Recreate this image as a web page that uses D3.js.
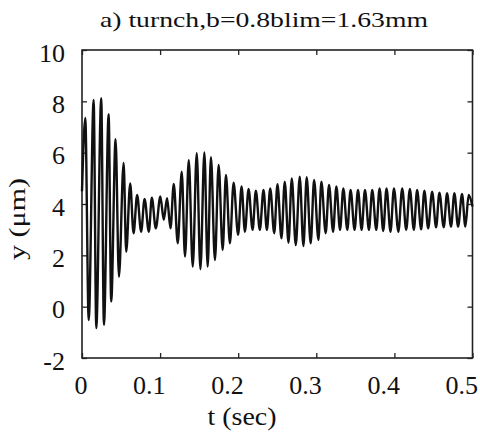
<!DOCTYPE html>
<html>
<head>
<meta charset="utf-8">
<script src="https://cdn.jsdelivr.net/npm/d3@7"></script>
<style>
  body { margin: 0; background: #fff; }
  svg { display: block; }
  text { font-family: "Liberation Serif", "Times New Roman", Times, "Nimbus Roman", serif; fill: #111; }
</style>
</head>
<body>
<div id="chart"></div>
<script>
const peakT = [0.0042, 0.0149, 0.0246, 0.0341, 0.0430, 0.0533, 0.0617, 0.0706, 0.0801, 0.0894,
  0.1003, 0.1089, 0.1175, 0.1277, 0.1367, 0.1469, 0.1567, 0.1651, 0.1750, 0.1843,
  0.1941, 0.2043, 0.2133, 0.2226, 0.2324, 0.2410, 0.2503, 0.2596, 0.2686, 0.2788,
  0.2877, 0.2972, 0.3065, 0.3163, 0.3257, 0.3346, 0.3439, 0.3534, 0.3623, 0.3716,
  0.3810, 0.3899, 0.3994, 0.4100, 0.4198, 0.4291, 0.4384, 0.4483, 0.4576, 0.4674,
  0.4768, 0.4866, 0.4951];
const peakY = [7.35, 8.05, 8.12, 7.5, 6.52, 5.6, 4.8, 4.35, 4.2, 4.25,
  4.29, 4.23, 4.78, 5.26, 5.71, 5.98, 6.01, 5.82, 5.52, 5.13,
  4.83, 4.68, 4.59, 4.52, 4.55, 4.61, 4.77, 4.87, 5.0, 5.06,
  5.04, 4.94, 4.87, 4.74, 4.68, 4.61, 4.55, 4.55, 4.55, 4.55,
  4.61, 4.61, 4.61, 4.61, 4.59, 4.55, 4.52, 4.48, 4.44, 4.42,
  4.42, 4.39, 4.35];

const troughT = [0.0086, 0.0183, 0.0281, 0.0374, 0.0473, 0.0566, 0.0660, 0.0757, 0.0856, 0.0945,
  0.1047, 0.1133, 0.1226, 0.1319, 0.1418, 0.1516, 0.1609, 0.1702, 0.1801, 0.1894,
  0.1999, 0.2086, 0.2184, 0.2277, 0.2367, 0.2461, 0.2554, 0.2644, 0.2737, 0.2835,
  0.2928, 0.3027, 0.3120, 0.3215, 0.3304, 0.3397, 0.3490, 0.3580, 0.3674, 0.3768,
  0.3857, 0.3950, 0.4051, 0.4151, 0.4249, 0.4342, 0.4432, 0.4534, 0.4632, 0.4725,
  0.4815, 0.4908];
const troughY = [-0.52, -0.83, -0.71, 0.2, 1.17, 2.14, 2.86, 2.92, 2.92, 3.05,
  3.38, 3.05, 2.47, 1.95, 1.56, 1.46, 1.56, 1.82, 2.21, 2.47,
  2.8, 2.92, 2.99, 2.99, 2.99, 2.86, 2.66, 2.49, 2.40, 2.36,
  2.47, 2.6, 2.86, 2.92, 2.99, 2.99, 2.99, 2.99, 2.99, 2.99,
  2.95, 2.92, 2.92, 2.99, 2.99, 3.01, 3.05, 3.09, 3.09, 3.12,
  3.12, 3.12];

// end points of the trace
const endT = [0, 0.5];
const endY = [4.5, 3.9];

const xTicks = [0, 0.1, 0.2, 0.3, 0.4, 0.5];
const xLabels = ["0", "0.1", "0.2", "0.3", "0.4", "0.5"];
const yTicks = [-2, 0, 2, 4, 6, 8, 10];
const yLabels = ["-2", "0", "2", "4", "6", "8", "10"];

const width = 480, height = 433,
    margin = ({ top: 50, right: 7, bottom: 75, left: 82 });

const svg = d3.select("#chart")
    .append("svg")
    .attr("width", width)
    .attr("height", height);

let data = [];
peakT.forEach((t, i) => data.push({ t: t, y: peakY[i] }));
troughT.forEach((t, i) => data.push({ t: t, y: troughY[i] }));
endT.forEach((t, i) => data.push({ t: t, y: endY[i] }));
data.sort((a, b) => a.t - b.t);

let x = d3.scaleLinear()
    .domain([0, 0.5])
    .range([margin.left, width - margin.right - 0.5]);

let y = d3.scaleLinear()
    .domain([-2, 10])
    .range([height - margin.bottom, margin.top]);

const serif = "'Liberation Serif', 'Times New Roman', Times, serif";

// bottom axis, ticks pointing in
let gx = svg.append("g")
    .attr("transform", `translate(0,${height - margin.bottom})`)
    .call(d3.axisBottom(x).tickValues(xTicks).tickSize(-5).tickFormat((d, i) => xLabels[i]));
gx.selectAll("text")
    .attr("y", 36)
    .attr("dy", null)
    .attr("dx", 5)
    .attr("text-anchor", "end")
    .style("font-size", "26px");

svg.append("g")
    .attr("transform", `translate(0,${margin.top})`)
    .call(d3.axisTop(x).tickValues(xTicks).tickSize(-5).tickFormat(""));

// left axis
let gy = svg.append("g")
    .attr("transform", `translate(${margin.left},0)`)
    .call(d3.axisLeft(y).tickValues(yTicks).tickSize(-5).tickPadding(17).tickFormat((d, i) => yLabels[i]));
gy.selectAll("text")
    .attr("dy", 11)
    .style("font-size", "26px");

svg.append("g")
    .attr("transform", `translate(${x(0.5)},0)`)
    .call(d3.axisRight(y).tickValues(yTicks).tickSize(-5).tickFormat(""));

svg.selectAll("g").attr("font-family", serif);
svg.selectAll(".domain").remove();
svg.selectAll(".tick line").attr("stroke", "#222").attr("stroke-width", 1.3);
svg.selectAll(".tick text").attr("fill", "#111").style("font-family", serif);

// frame
svg.append("rect")
    .attr("x", x(0))
    .attr("y", y(10))
    .attr("width", x(0.5) - x(0))
    .attr("height", y(-2) - y(10))
    .attr("fill", "none")
    .attr("stroke", "#222")
    .attr("stroke-width", 1.6);

let line = d3.line()
    .x(d => x(d.t))
    .y(d => y(d.y))
    .curve(d3.curveMonotoneX);

svg.append("path")
    .datum(data)
    .attr("d", line)
    .attr("fill", "none")
    .attr("stroke", "#111")
    .attr("stroke-width", 2.4)
    .attr("stroke-linejoin", "round");

svg.append("text")
    .attr("x", 264)
    .attr("y", 27)
    .attr("text-anchor", "middle")
    .attr("textLength", 328)
    .attr("lengthAdjust", "spacingAndGlyphs")
    .style("font-size", "21px")
    .text("a) turnch,b=0.8blim=1.63mm");

svg.append("text")
    .attr("x", 242)
    .attr("y", 425)
    .attr("text-anchor", "middle")
    .attr("textLength", 69)
    .attr("lengthAdjust", "spacingAndGlyphs")
    .style("font-size", "25px")
    .text("t (sec)");

svg.append("text")
    .attr("transform", "rotate(-90)")
    .attr("x", -219)
    .attr("y", 25)
    .attr("text-anchor", "middle")
    .attr("textLength", 82)
    .attr("lengthAdjust", "spacingAndGlyphs")
    .style("font-size", "23px")
    .text("y (μm)");
</script>
</body>
</html>
